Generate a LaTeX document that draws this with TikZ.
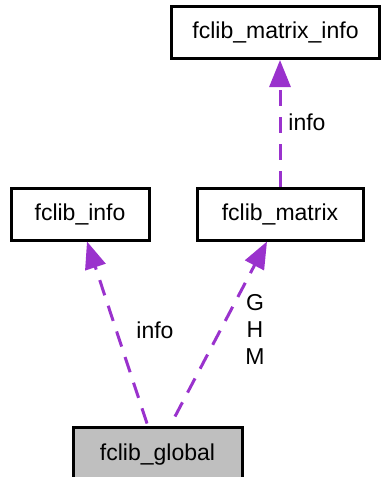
\documentclass[tikz,border=0pt]{standalone}
\usepackage{fontspec}
\setmainfont{Liberation Sans}
\usetikzlibrary{arrows.meta}
\definecolor{edgecol}{HTML}{9A32CD}
\definecolor{fillgray}{HTML}{BFBFBF}
\tikzset{
  classbox/.style={draw=black, line width=3pt, rectangle, minimum height=52pt, inner sep=0pt, font=\fontsize{23}{26}\selectfont},
  relarrow/.style={draw=edgecol, line width=3pt, dash pattern=on 16pt off 11pt, -{Triangle[length=27pt,width=21pt,fill=edgecol]}},
  lbl/.style={font=\fontsize{23}{27}\selectfont, inner sep=0pt}
}
\begin{document}
\begin{tikzpicture}[x=1pt,y=-1pt]
\useasboundingbox (0,0) rectangle (382,477);
\begin{scope}
\clip (0,0) rectangle (382,477);
\node[classbox, minimum width=208pt] (mi) at (275.5,32.5) {fclib\_matrix\_info};
\node[classbox, minimum width=166pt] (mat) at (280,214) {fclib\_matrix};
\node[classbox, minimum width=138pt] (inf) at (80,214) {fclib\_info};
\node[classbox, fill=fillgray, minimum width=169pt, minimum height=56pt] (glob) at (157.5,455) {\raisebox{5pt}{fclib\_global}};
\draw[relarrow] ([xshift=0pt]mat.north) -- ([xshift=4.5pt]mi.south);
\draw[relarrow] ([xshift=-10.5pt,yshift=2pt]glob.north) -- ([xshift=7pt]inf.south);
\draw[relarrow] ([xshift=17.5pt,yshift=9pt]glob.north) -- ([xshift=-13pt]mat.south);
\end{scope}
\node[lbl] (l1) at (307,122) {info};
\node[lbl] (l2) at (155,330) {info};
\node[lbl, align=center] (l3) at (255,329) {G\\H\\M};
\end{tikzpicture}
\end{document}
